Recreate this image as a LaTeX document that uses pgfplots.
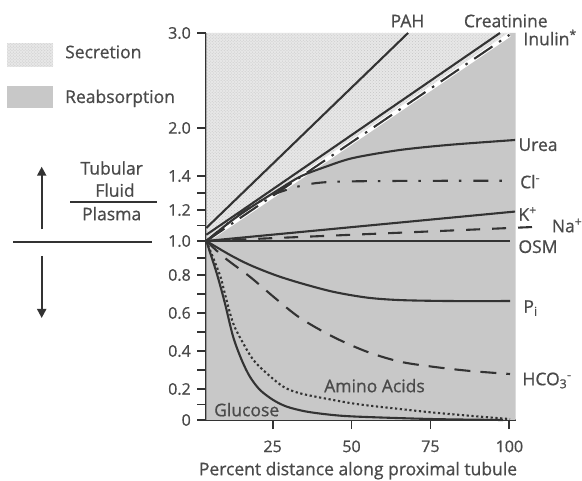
\documentclass[border=0pt]{standalone}
\usepackage{fontspec}
\setmainfont{Open Sans}[RawFeature={embolden=0.8}]
\usepackage{pgfplots}
\pgfplotsset{compat=1.18}
\usetikzlibrary{patterns,arrows.meta}
\definecolor{ln}{HTML}{333333}
\definecolor{txt}{HTML}{4A4A4A}
\definecolor{reab}{HTML}{C8C8C8}
\definecolor{secr}{HTML}{E7E7E7}
\definecolor{secdot}{HTML}{C6C6C6}
\newcommand{\labfont}{\fontsize{17.5bp}{20bp}\selectfont}
\newcommand{\tickfont}{\fontsize{16bp}{18bp}\selectfont}
\begin{document}
\begin{tikzpicture}
\useasboundingbox (0,0) rectangle (582bp,481bp);
\begin{axis}[
  at={(206.3bp,61bp)}, anchor=south west,
  scale only axis, width=309.4bp, height=387bp,
  xmin=4, xmax=102, ymin=0, ymax=3,
  y coord trafo/.code={\pgfmathparse{155*(#1)+35*max((#1)-0.2,0)-20*max((#1)-0.8,0)-15*max((#1)-1,0)+15*max((#1)-1.2,0)-90*max((#1)-1.4,0)+15*max((#1)-2,0)}},
  axis lines*=left,
  axis line style={ln, line width=2.3bp},
  clip=false,
  xtick={25,50,75,100}, xticklabels={25,50,75,100},
  ytick={0,0.2,0.4,0.6,0.8,1.0,1.2,1.4,2.0,3.0},
  yticklabels={0,0.2,0.4,0.6,0.8,1.0,1.2,1.4,2.0,3.0},
  minor ytick={0.1,0.3,0.5,0.7,0.9,1.1,1.3},
  tick align=outside,
  major tick length=9bp, minor tick length=9bp,
  every tick/.style={ln, line width=1.9bp},
  every minor tick/.style={ln, line width=1.9bp},
  tick label style={font=\tickfont, text=txt},
  xticklabel style={yshift=-8bp},
  yticklabel style={xshift=-3bp},
  crv/.style={ln, line width=2.1bp},
]
% shaded regions
\addplot[draw=none, fill=reab] coordinates {(4,0)(4,1.0)(18.45,1.2)(34.3,1.4)(56.66,2.0)(100,2.98)(100,3)(102,3)(102,0)} --cycle;
\addplot[draw=none, fill=secr] coordinates {(4,1.0)(18.45,1.2)(34.3,1.4)(56.66,2.0)(100,2.98)(100,3)(4,3)} --cycle;
\addplot[draw=none, pattern=crosshatch dots, pattern color=secdot] coordinates {(4,1.0)(18.45,1.2)(34.3,1.4)(56.66,2.0)(100,2.98)(100,3)(4,3)} --cycle;
% Inulin white halo
\addplot[white, line width=4.2bp] coordinates {(6,1.03)(18.45,1.2)(34.3,1.4)(56.66,2.0)(100,2.98)};
% PAH
\addplot[crv] coordinates {(4,1.084)(9.9,1.2)(21.04,1.4)(36.77,2.0)(67.9,3.0)};
% Creatinine
\addplot[crv] coordinates {(4,1.04)(15.5,1.2)(31.16,1.4)(53.26,2.0)(97,3.0)};
% Inulin
\addplot[crv, dash pattern=on 22bp off 8bp on 2.5bp off 8bp] coordinates {(4,1.0)(18.45,1.2)(34.3,1.4)(56.66,2.0)(100,2.98)};
% Urea
\addplot[crv, smooth] coordinates {(4,1.0)(11.5,1.123)(17.8,1.212)(25.75,1.306)(33.7,1.396)(41.6,1.5125)(50.5,1.625)(65.3,1.725)(81.2,1.79)(101.8,1.85)};
% Cl-
\addplot[crv, smooth, dash pattern=on 15bp off 11bp on 2.5bp off 12bp] coordinates {(4,1.0)(14.7,1.174)(24.2,1.282)(33.7,1.341)(43.2,1.365)(65.3,1.371)(97.6,1.372)};
% K+
\addplot[crv] coordinates {(4,1.0)(101.8,1.19)};
% Na+
\addplot[crv, dash pattern=on 14bp off 12bp] coordinates {(4,1.0)(110.6,1.093)};
% OSM
\addplot[crv] coordinates {(4,1.0)(100.2,1.0)};
% Pi
\addplot[crv, smooth] coordinates {(4,1.0)(11.5,0.918)(17.8,0.859)(25.75,0.8)(33.7,0.758)(44.1,0.712)(54.9,0.681)(65.3,0.668)(81.2,0.663)(100.2,0.663)};
% HCO3-
\addplot[crv, smooth, dash pattern=on 16bp off 10bp] coordinates {(4,1.0)(9.9,0.9)(17.8,0.791)(25.75,0.679)(33.7,0.574)(44.1,0.475)(54.9,0.396)(65.3,0.344)(75.8,0.317)(87.5,0.295)(100.2,0.279)};
% Amino acids
\addplot[crv, smooth, dash pattern=on 2.2bp off 2.6bp] coordinates {(4,1.0)(8.3,0.80)(9.9,0.70)(12.5,0.546)(15.7,0.44)(18.9,0.353)(23.1,0.283)(28.4,0.212)(33.7,0.172)(44.2,0.129)(52.7,0.10)(65.3,0.071)(75.9,0.048)(91.7,0.02)(100.2,0.006)};
% Glucose
\addplot[crv, smooth] coordinates {(4,1.0)(7.3,0.81)(9.9,0.651)(12.5,0.475)(15.2,0.353)(17.8,0.265)(21.0,0.194)(25.2,0.129)(29.5,0.086)(35.8,0.054)(44.2,0.032)(52.7,0.021)(75.9,0.006)(98,0)};
\end{axis}
\begin{scope}[x=1bp, y=-1bp, yshift=481bp,
  lbl/.style={font=\labfont, text=txt, inner sep=0pt, text height=12.5bp, text depth=0bp}]
  % legend
  \fill[secr] (7.3,43.3) rectangle (53.3,66.7);
  \fill[pattern=crosshatch dots, pattern color=secdot] (7.3,43.3) rectangle (53.3,66.7);
  \fill[reab] (7.3,86) rectangle (53.3,108.3);
  \node[lbl, anchor=west] at (65,52) {Secretion};
  \node[lbl, anchor=west] at (65,96.7) {Reabsorption};
  % ratio label and arrows
  \node[lbl] at (111.7,168.3) {Tubular};
  \node[lbl] at (115,190.5) {Fluid};
  \node[lbl] at (111.7,214) {Plasma};
  \draw[ln, line width=2bp] (70,202.3) -- (157.3,202.3);
  \draw[ln, line width=2.2bp] (13.3,241.7) -- (151.7,241.7);
  \draw[ln, line width=2bp, -{Triangle[width=9bp,length=9bp]}] (41.7,229.3) -- (41.7,166.7);
  \draw[ln, line width=2bp, -{Triangle[width=9bp,length=9bp]}] (41.7,256) -- (41.7,318);
  % curve labels
  \node[lbl] at (407.5,21) {PAH};
  \node[lbl] at (505.8,21) {Creatinine};
  \node[lbl, anchor=west] at (523.3,39) {Inulin\textsuperscript{*}};
  \node[lbl, anchor=west] at (518.3,144.7) {Urea};
  \node[lbl, anchor=west] at (520,182) {Cl\textsuperscript{-}};
  \node[lbl, anchor=west] at (518.3,214.5) {K\textsuperscript{+}};
  \node[lbl, anchor=west] at (551.7,226) {Na\textsuperscript{+}};
  \node[lbl, anchor=west] at (518.3,246.7) {OSM};
  \node[lbl, anchor=west] at (523.3,306.5) {P\textsubscript{i}};
  \node[lbl, anchor=west] at (522.3,379) {HCO\textsubscript{3}\textsuperscript{-}};
  \node[lbl] at (374.5,386) {Amino Acids};
  \node[lbl] at (246.7,410) {Glucose};
  \node[lbl] at (358,469) {Percent distance along proximal tubule};
\end{scope}
\end{tikzpicture}
\end{document}
